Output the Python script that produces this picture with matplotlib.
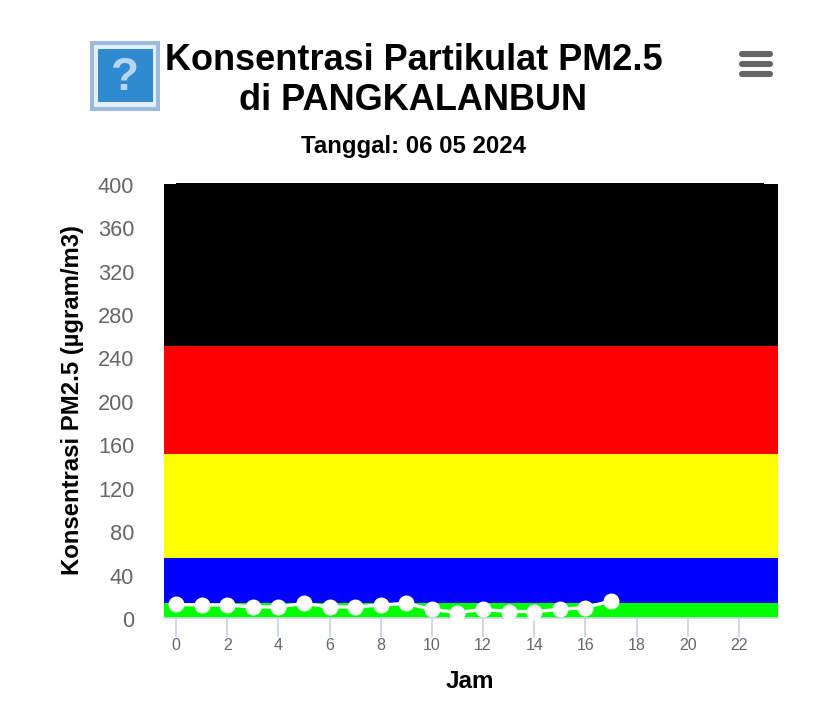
import matplotlib
matplotlib.use('Agg')
import matplotlib.pyplot as plt
from matplotlib.patches import Rectangle
from matplotlib.transforms import ScaledTranslation

plt.rcParams['font.family'] = ['Liberation Sans', 'DejaVu Sans']

# Data
jam = list(range(18))
pm25 = [12, 11.5, 11.5, 9.7, 9.7, 13, 9.7, 9.7, 11.5, 13, 7.4, 4.6, 7.4, 5.5, 5.5, 7.4, 9.2, 15.2]
band_edges = [0, 13.8, 54.4, 150.4, 249.8, 398.7]
band_colors = ['#00ff00', '#0000ff', '#ffff00', '#ff0000', '#000000']
x_ticks = list(range(0, 23, 2))
y_ticks = list(range(0, 401, 40))

W, H = 828, 727
fig = plt.figure(figsize=(W / 100, H / 100), dpi=100)

# plot area in pixels: x 164-778, y 183-617
ax = fig.add_axes([164 / W, 1 - 617.5 / H, 614 / W, 434.5 / H])
for i in range(len(band_colors)):
    ax.axhspan(band_edges[i], band_edges[i + 1], color=band_colors[i], lw=0, zorder=1)
# the black band is a bit taller between the first and last hour
ax.fill_between([0, 23], 398, 400, color='#000000', lw=0, zorder=1)

ax.plot(jam, pm25, color='white', lw=2.4, marker='o', ms=11.5, mec='white', mew=0,
        clip_on=False, zorder=5)

ax.set_xlim(-0.47, 23.53)
ax.set_ylim(0, 400)
ax.set_xticks(x_ticks)
ax.set_yticks(y_ticks)
for s in ['top', 'left', 'right']:
    ax.spines[s].set_visible(False)
ax.spines['bottom'].set_color('#ccd6eb')
ax.spines['bottom'].set_linewidth(1.2)
ax.tick_params(axis='x', length=14, width=1.3, color='#ccd6eb', labelcolor='#666666',
               labelsize=11.5, pad=1)
ax.tick_params(axis='y', length=0, labelcolor='#666666', labelsize=15.7, pad=21.5)

# y labels sit slightly below their gridline position
shift = ScaledTranslation(0, -3 / 72, fig.dpi_scale_trans)
for lab in ax.get_yticklabels():
    lab.set_verticalalignment('center')
    lab.set_transform(lab.get_transform() + shift)

# overlay in pixel coordinates for title texts and icons
ov = fig.add_axes([0, 0, 1, 1], zorder=10)
ov.set_xlim(0, W)
ov.set_ylim(H, 0)
ov.axis('off')
ov.patch.set_alpha(0)

ov.text(413.5, 60, 'Konsentrasi Partikulat PM2.5', ha='center', va='center',
        fontsize=26, fontweight='bold', color='black')
ov.text(413, 100, 'di PANGKALANBUN', ha='center', va='center',
        fontsize=26, fontweight='bold', color='black')
ov.text(414, 147, 'Tanggal: 06 05 2024', ha='center', va='center',
        fontsize=17.3, fontweight='bold', color='black')
ov.text(470, 682, 'Jam', ha='center', va='center', fontsize=17.5, fontweight='bold', color='black')
ov.text(73, 400, 'Konsentrasi PM2.5 (µgram/m3)', ha='center', va='center', rotation=90,
        fontsize=17.2, fontweight='bold', color='black')

# broken image icon
ov.add_patch(Rectangle((90, 41), 70, 70, color='#9dbcdc', lw=0))
ov.add_patch(Rectangle((94, 45), 62, 62, color='#e4eff8', lw=0))
ov.add_patch(Rectangle((98, 49), 55, 53, color='#2f8ad0', lw=0))
ov.text(125, 78, '?', ha='center', va='center', fontsize=33, fontweight='bold', color='#b5d6ee')

# menu icon
for y in [54, 64, 74]:
    ov.plot([742, 770], [y, y], color='#666666', lw=4.4, solid_capstyle='round')

fig.savefig('out.png', dpi=100)
